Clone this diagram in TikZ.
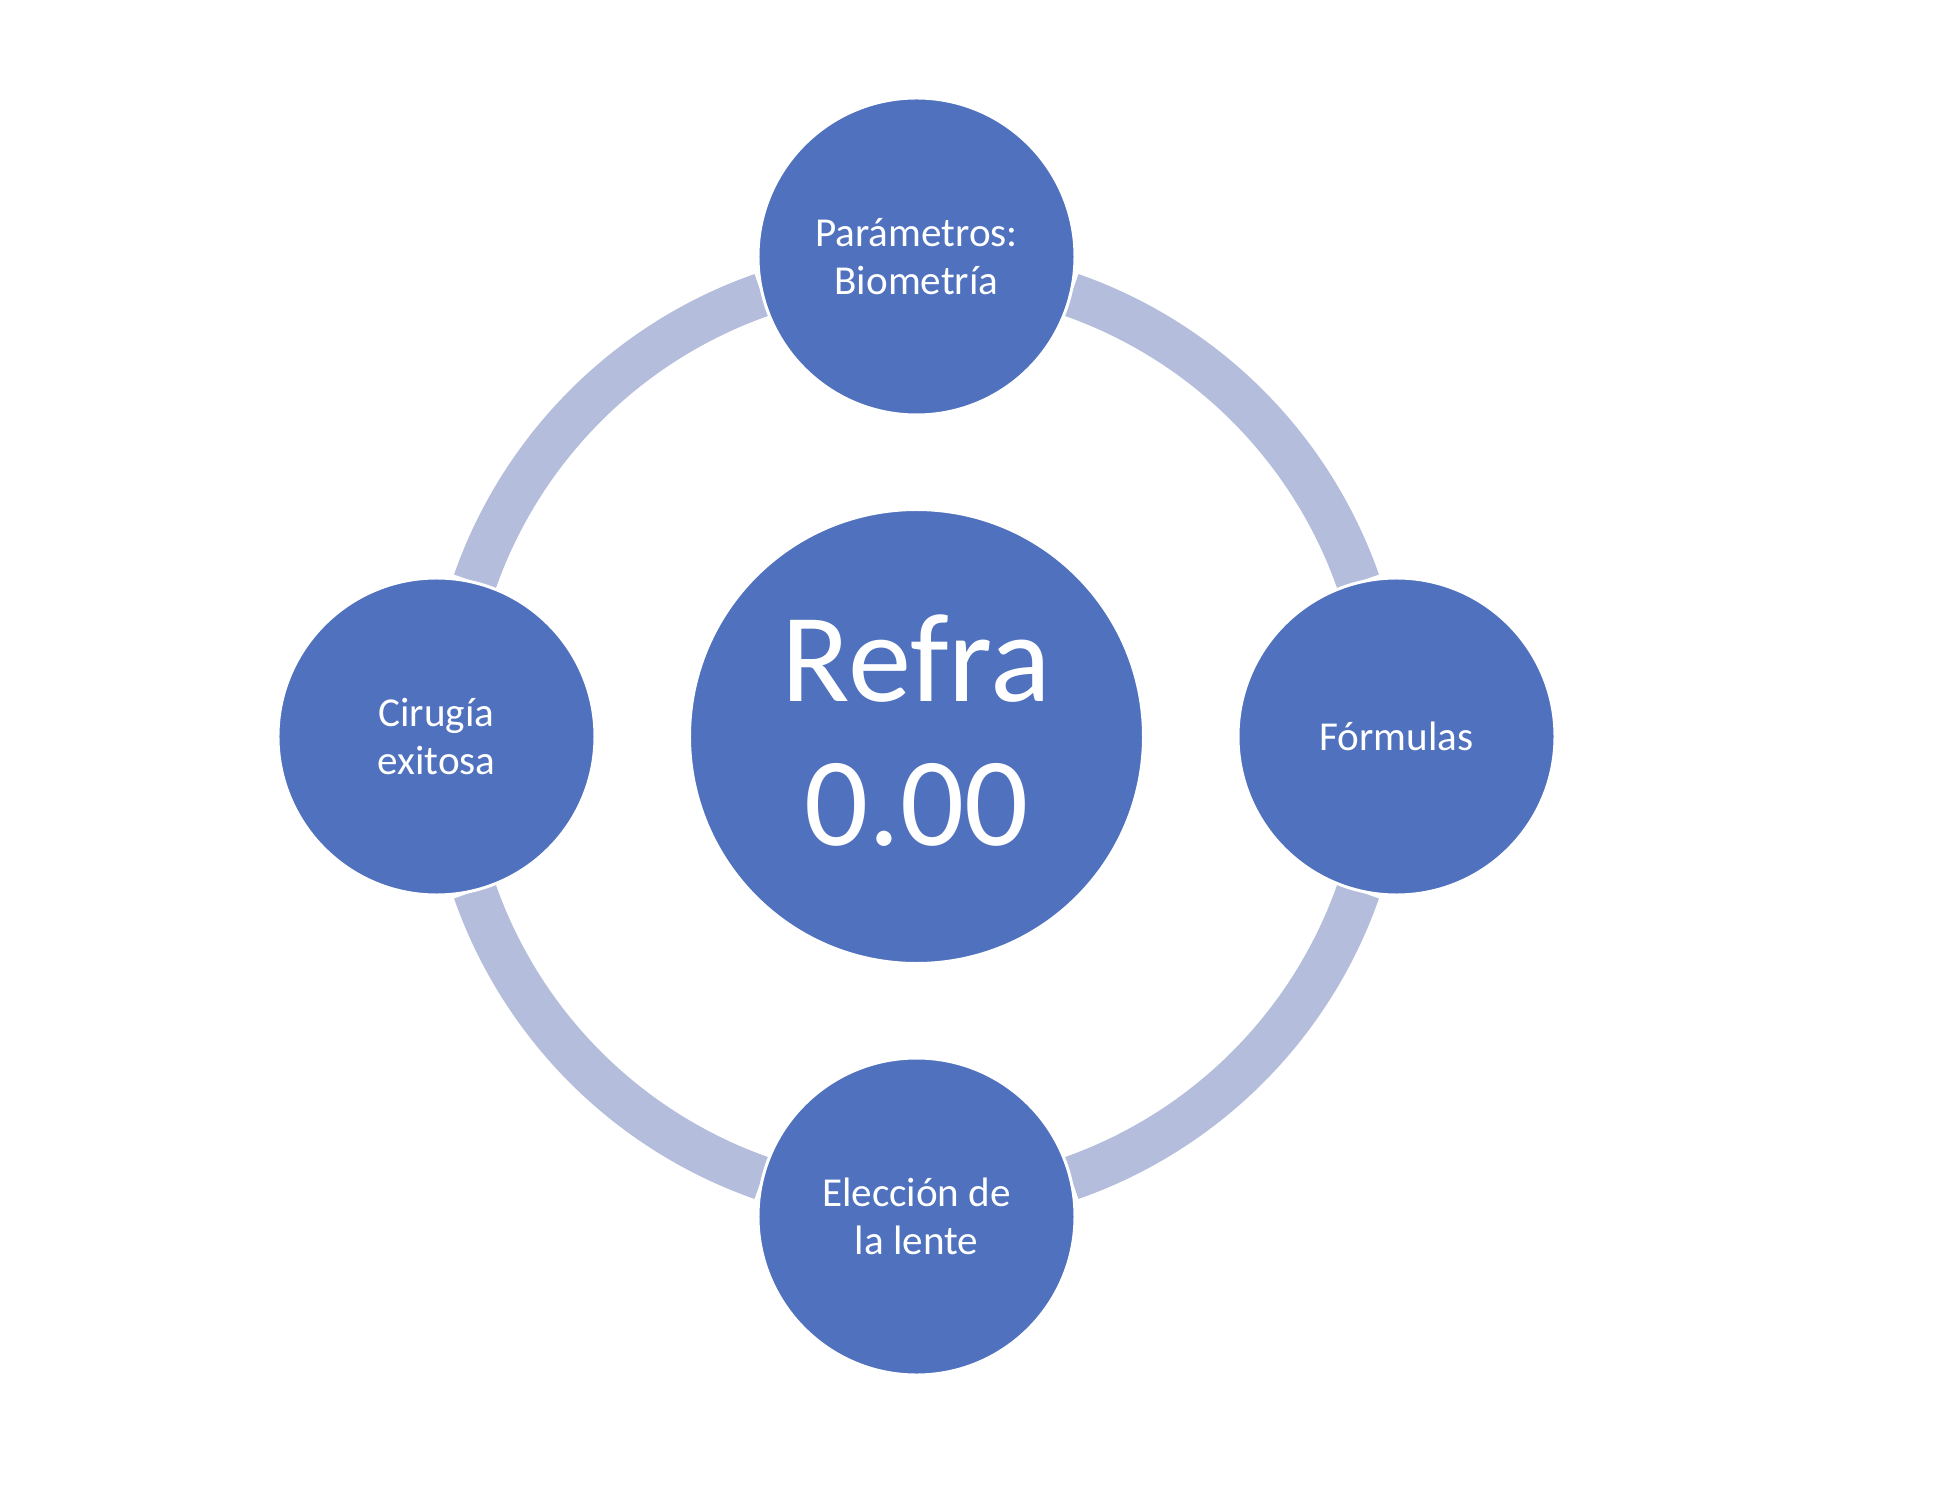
\documentclass[tikz,border=0pt]{standalone}
\usepackage{fontspec}
\setmainfont{Carlito}
\usetikzlibrary{backgrounds}

\definecolor{cycleblue}{HTML}{4F71BE}
\definecolor{cyclering}{HTML}{B4BEDC}

\tikzset{
	stage/.style={circle, fill=cycleblue, draw=white, line width=1.7pt, minimum size=6.34cm, inner sep=0pt,
		text=white, align=center, font=\fontsize{23.4}{27}\selectfont},
	hub/.style={stage, minimum size=9.08cm, text depth=0.24cm, font=\fontsize{72}{82}\selectfont},
	ring/.style={cyclering, line width=0.88cm}
}

\begin{document}
\begin{tikzpicture}
			\useasboundingbox (-18.33, -15.35) rectangle (20.39, 14.73);

			\node[hub] (refra) at (0, 0) {Refra\\0.00};
			\node[stage] (param) at (0, 9.6) {Parámetros:\\Biometría};
			\node[stage] (formulas) at (9.6, 0) {Fórmulas};
			\node[stage] (lente) at (0, -9.6) {Elección de\\la lente};
			\node[stage] (cirugia) at (-9.6, 0) {Cirugía\\exitosa};

			% ring pieces between the circles, round the hub
			\begin{scope}[on background layer]
			\draw[ring] (refra.center) ++(70.7:9.36) arc[start angle=70.7, end angle=19.3, radius=9.36];
			\draw[ring] (refra.center) ++(-19.3:9.36) arc[start angle=-19.3, end angle=-70.7, radius=9.36];
			\draw[ring] (refra.center) ++(-109.3:9.36) arc[start angle=-109.3, end angle=-160.7, radius=9.36];
			\draw[ring] (refra.center) ++(160.7:9.36) arc[start angle=160.7, end angle=109.3, radius=9.36];
			\end{scope}

		\end{tikzpicture}
\end{document}
